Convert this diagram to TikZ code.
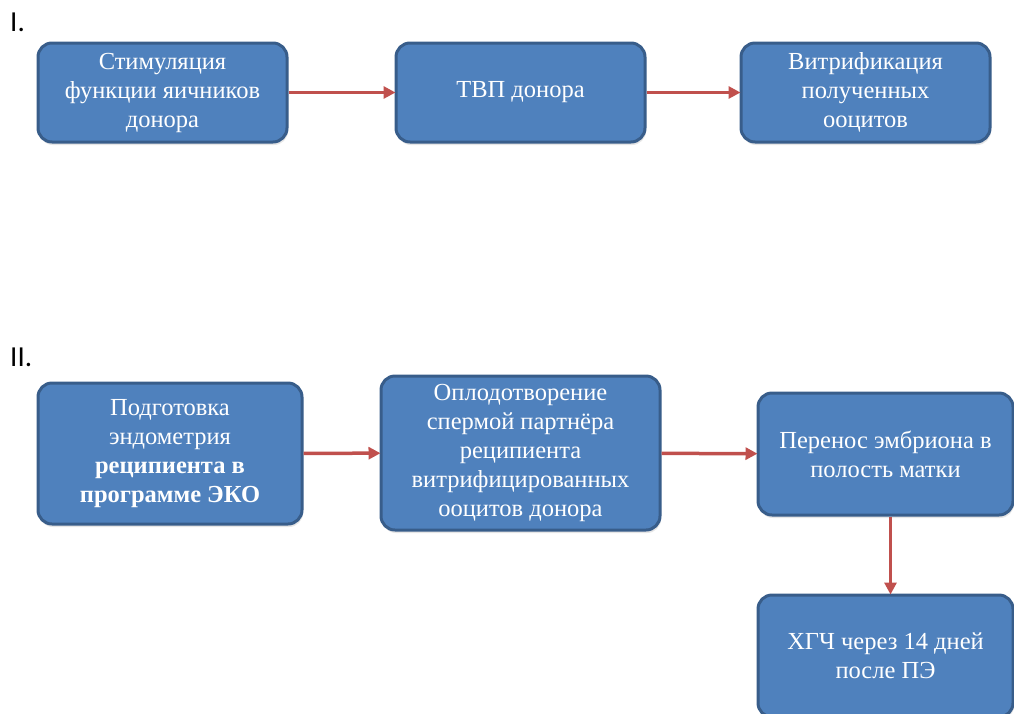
\documentclass[tikz,border=0pt]{standalone}
\usepackage{fontspec}
\setmainfont{Liberation Serif}
\newfontfamily\numfont{Carlito}
\usetikzlibrary{arrows.meta,shadows}
\definecolor{boxblue}{HTML}{4F81BD}
\definecolor{boxedge}{HTML}{385D8A}
\definecolor{arrowred}{HTML}{C0504D}
\begin{document}
\begin{tikzpicture}[x=1pt,y=-1pt,
		stepbox/.style={
			rectangle, rounded corners=14pt, draw=boxedge, line width=3pt, fill=boxblue,
			text=white, align=center, inner sep=2pt, font=\fontsize{24.5}{29}\selectfont,
			drop shadow={opacity=0.2, shadow xshift=1pt, shadow yshift=-3pt}
		},
		numlabel/.style={anchor=base west, inner sep=0pt, font=\numfont\fontsize{29}{32}\selectfont},
		flow/.style={-{Triangle[length=12pt,width=12pt]}, arrowred, line width=3.5pt, shorten >=-1pt},
	]
	\clip (0,0) rectangle (1014,713);
	% part I
	\node [numlabel] (numI) at (10,31) {I.};
	\node [stepbox, minimum width=249pt, minimum height=99pt] (stim) at (162.5,92.5)
		{Стимуляция\\функции яичников\\донора};
	\node [stepbox, minimum width=249pt, minimum height=99pt] (tvp) at (520.5,92.5)
		{ТВП донора};
	\node [stepbox, minimum width=249pt, minimum height=99pt] (vitr) at (865.5,92.5)
		{Витрификация\\полученных\\ооцитов};
	% part II
	\node [numlabel] (numII) at (10,366) {II.};
	\node [stepbox, minimum width=264pt, minimum height=141pt] (prep) at (170,453.5)
		{Подготовка\\эндометрия\\\textbf{реципиента в}\\\textbf{программе ЭКО}};
	\node [stepbox, minimum width=279pt, minimum height=154pt] (fert) at (520.5,453)
		{Оплодотворение\\спермой партнёра\\реципиента\\витрифицированных\\ооцитов донора};
	\node [stepbox, minimum width=255pt, minimum height=122pt] (transf) at (885.5,454)
		{Перенос эмбриона в\\полость матки};
	\node [stepbox, minimum width=255pt, minimum height=122pt] (hcg) at (885.5,656)
		{ХГЧ через 14 дней\\после ПЭ};

	\draw[flow] (stim) to (tvp);
	\draw[flow] (tvp) to (vitr);
	\draw[flow] (prep) to (fert);
	\draw[flow] (fert) to (transf);
	\draw[flow] ([xshift=5pt]transf.south) to ([xshift=5pt]hcg.north);

\end{tikzpicture}
\end{document}
